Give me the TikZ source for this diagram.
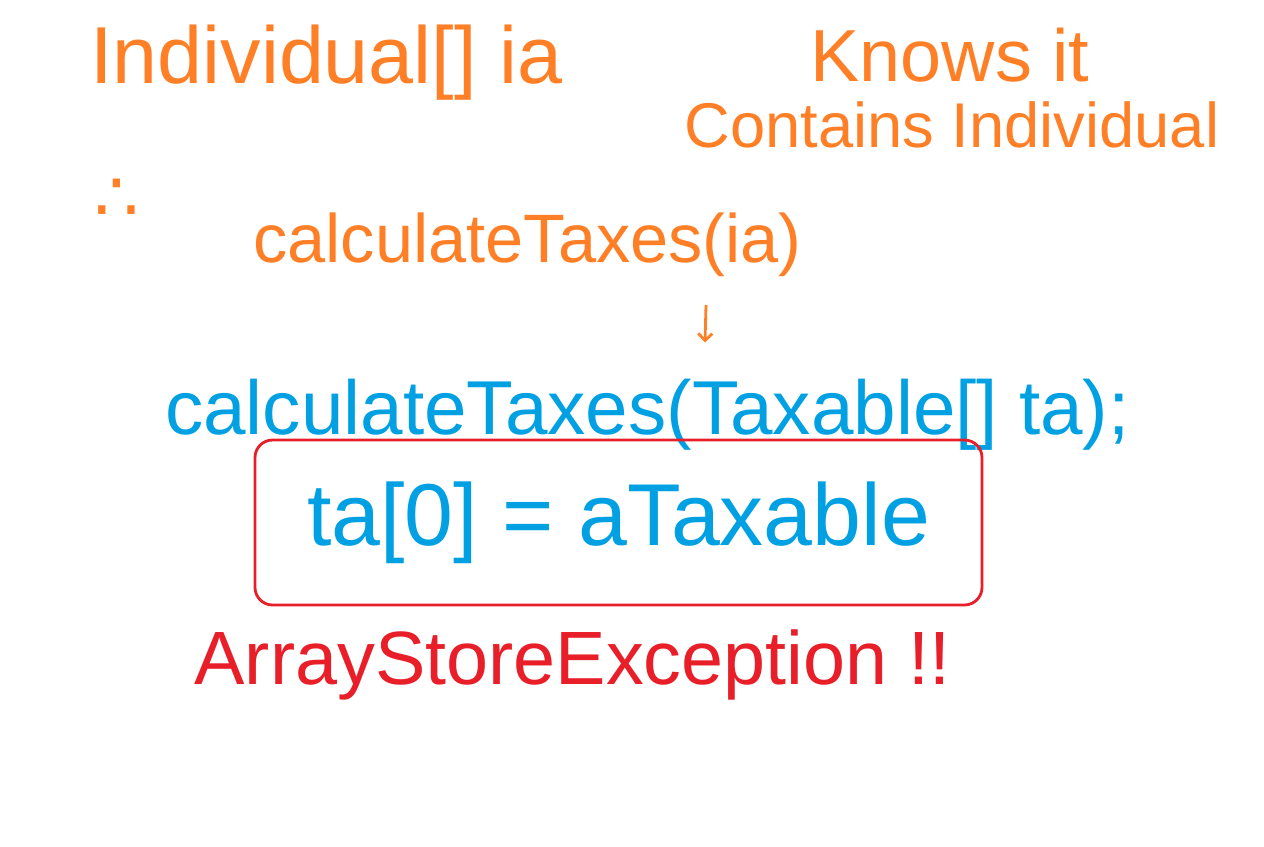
\documentclass[tikz,border=0pt]{standalone}
\usepackage{fontspec}
\setmainfont{Liberation Sans}
\newfontfamily\symfont{DejaVu Sans}
\usetikzlibrary{arrows.meta}
\definecolor{inkorange}{RGB}{255,127,39}
\definecolor{inkblue}{RGB}{0,160,227}
\definecolor{inkred}{RGB}{232,30,40}
\tikzset{
  ink/.style={inner sep=0pt, font=\fontsize{#1}{#1}\selectfont},
  ink/.default=42
}
\begin{document}
\begin{tikzpicture}
    \useasboundingbox (0,0) rectangle (25.28,-16.94);

    % Declaration and remark
    \node[ink=46, text=inkorange, anchor=west] (decl) at (1.8,-1.25) {Individual[] ia};
    \node[ink=42, text=inkorange] (knows) at (19.0,-1.1) {Knows it};
    \node[ink=36, text=inkorange] (contains) at (19.04,-2.5) {Contains Individual};
    \node[ink=40, text=inkorange] (therefore) at (2.34,-4.0) {\symfont ∴};

    % First call
    \node[ink=39, text=inkorange] (callia) at (10.55,-4.9) {calculateTaxes(ia)};
    \coordinate (arrtop) at (14.12,-6.1);
    \coordinate (arrbot) at (14.1,-6.85);
    \draw[-{Straight Barb[length=4pt]}, line width=1.6pt, inkorange] (arrtop) -- (arrbot);

    % Method signature
    \node[ink=43.5, text=inkblue] (sig) at (12.95,-8.3) {calculateTaxes(Taxable[] ta);};

    % Assignment in a box
    \node[ink=50, text=inkblue, draw=inkred, line width=1.6pt, rounded corners=10pt,
          minimum width=14.54cm, minimum height=3.3cm] (assign) at (12.37,-10.45) {ta[0] = aTaxable};

    % Result
    \node[ink=43, text=inkred] (exc) at (11.45,-13.3) {ArrayStoreException !!};
\end{tikzpicture}
\end{document}
